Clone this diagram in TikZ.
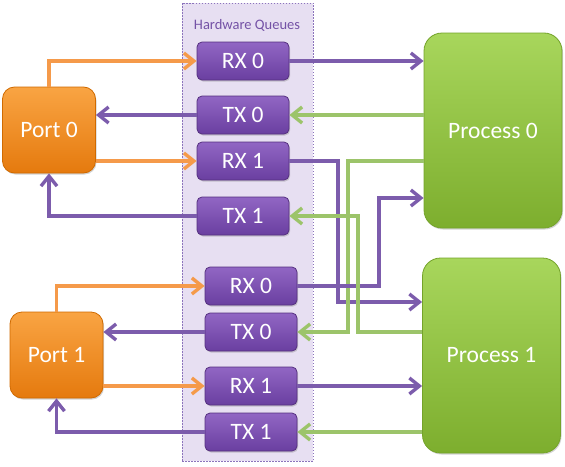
\documentclass[tikz,border=0pt]{standalone}
\usepackage{fontspec}
\setmainfont{Carlito}
\usetikzlibrary{arrows.meta,shadows,calc}
\definecolor{qtop}{HTML}{9166C4}
\definecolor{qbot}{HTML}{6A3FA0}
\definecolor{qborder}{HTML}{55307F}
\definecolor{ptop}{HTML}{F9A443}
\definecolor{pbot}{HTML}{E57A0E}
\definecolor{pborder}{HTML}{D06A00}
\definecolor{gtop}{HTML}{A8D65C}
\definecolor{gbot}{HTML}{7DAE2E}
\definecolor{gborder}{HTML}{74A32A}
\definecolor{parr}{HTML}{7C5CAC}
\definecolor{oarr}{HTML}{F59A4A}
\definecolor{garr}{HTML}{9CC46A}
\definecolor{hwfill}{HTML}{E7DFF2}
\definecolor{hwborder}{HTML}{8C74BC}
\definecolor{ttlcol}{HTML}{7452A6}
\begin{document}
\begin{tikzpicture}[x=1pt,y=-1pt,
  shad/.style={drop shadow={shadow xshift=1pt,shadow yshift=-1.5pt,opacity=0.35}},
  queue/.style={shad,draw=qborder,line width=0.8pt,rounded corners=5pt,top color=qtop,bottom color=qbot,
    minimum width=92pt,minimum height=38pt,inner sep=0pt,text=white,font=\fontsize{23.5}{26}\selectfont},
  port/.style={shad,draw=pborder,line width=0.8pt,rounded corners=12pt,top color=ptop,bottom color=pbot,
    minimum width=93pt,minimum height=86pt,inner sep=0pt,text=white,font=\fontsize{23.5}{26}\selectfont},
  proc/.style={shad,draw=gborder,line width=0.8pt,rounded corners=18pt,top color=gtop,bottom color=gbot,
    minimum width=138pt,minimum height=195pt,inner sep=0pt,text=white,font=\fontsize{23.5}{26}\selectfont},
  hwbox/.style={draw=hwborder,dashed,dash pattern=on 1.5pt off 1.5pt,line width=0.7pt,fill=hwfill,
    minimum width=131pt,minimum height=458pt,inner sep=0pt},
  ttl/.style={text=ttlcol,font=\fontsize{14.5}{16}\selectfont,inner sep=0pt},
  tip/.style={-{Straight Barb[length=10pt,width=16pt,line width=3.4pt]}},
  parrow/.style={draw=parr,line width=3.8pt,tip},
  oarrow/.style={draw=oarr,line width=3.8pt,tip},
  garrow/.style={draw=garr,line width=3.8pt,tip}]
\useasboundingbox (0,0) rectangle (565,466);
\node[hwbox] (hw) at (247.5,232) {};
\node[ttl] (title) at (247,25) {Hardware Queues};
% top queues
\node[queue] (rx0a) at (243,61) {RX 0};
\node[queue] (tx0a) at (243,115) {TX 0};
\node[queue] (rx1a) at (243,161) {RX 1};
\node[queue] (tx1a) at (243,216) {TX 1};
% bottom queues
\node[queue] (rx0b) at (251,286) {RX 0};
\node[queue] (tx0b) at (251,332) {TX 0};
\node[queue] (rx1b) at (251,386) {RX 1};
\node[queue] (tx1b) at (251,432) {TX 1};
% ports
\node[port] (port0) at (49,130) {Port 0};
\node[port] (port1) at (56.5,355) {Port 1};
% processes
\node[proc] (proc0) at (493,130.5) {Process 0};
\node[proc] (proc1) at (491.5,355.5) {Process 1};
% lanes and levels
\coordinate (lane1) at (338,0);
\coordinate (lane2) at (348,0);
\coordinate (lane3) at (358,0);
\coordinate (lane4) at (379,0);
\coordinate (lvlA) at (0,302);
\coordinate (lvlB) at (0,198);
% port 0 connectors
\draw[oarrow] (port0.north) |- (rx0a.west);
\draw[parrow] (tx0a.west) -- (tx0a.west -| port0.east);
\draw[oarrow] (rx1a.west -| port0.east) -- (rx1a.west);
\draw[parrow] (tx1a.west) -| (port0.south);
% port 1 connectors
\draw[oarrow] (port1.north) |- (rx0b.west);
\draw[parrow] (tx0b.west) -- (tx0b.west -| port1.east);
\draw[oarrow] (rx1b.west -| port1.east) -- (rx1b.west);
\draw[parrow] (tx1b.west) -| (port1.south);
% process connectors
\draw[parrow] (rx0a.east) -- (rx0a.east -| proc0.west);
\draw[garrow] (tx0a.east -| proc0.west) -- (tx0a.east);
\draw[parrow] (rx1a.east) -| (lane1 |- lvlA) -- (proc1.west |- lvlA);
\draw[garrow] (proc0.west |- rx1a.east) -| (lane2 |- tx0b.east) -- (tx0b.east);
\draw[parrow] (rx0b.east) -| (lane4 |- lvlB) -- (proc0.west |- lvlB);
\draw[garrow] (proc1.west |- tx0b.east) -| (lane3 |- tx1a.east) -- (tx1a.east);
\draw[parrow] (rx1b.east) -- (rx1b.east -| proc1.west);
\draw[garrow] (tx1b.east -| proc1.west) -- (tx1b.east);
\end{tikzpicture}
\end{document}
